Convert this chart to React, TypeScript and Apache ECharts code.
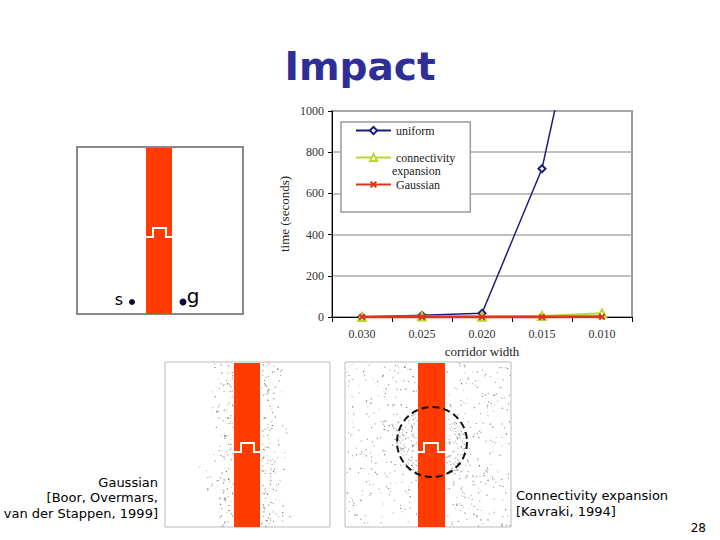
import React, { useEffect, useRef } from "react";
import * as echarts from "echarts";

// ---- data ----
const categories = ["0.030", "0.025", "0.020", "0.015", "0.010"];
const uniform = [0, 8, 18, 720, 2050];
const connectivity = [0, 2, 1, 5, 18];
const gaussian = [0, 0, 0, 0, 1];
const seriesNames = ["uniform", "connectivity expansion", "Gaussian"];

const X_SHAPE =
  "path://M0,2 L2,0 L5,3 L8,0 L10,2 L7,5 L10,8 L8,10 L5,7 L2,10 L0,8 L3,5 Z";

// deterministic decorative texture (image speckle, not data)
function makeRng(seed: number) {
  let a = seed >>> 0;
  return () => {
    a = (a + 0x6d2b79f5) >>> 0;
    let t = a;
    t = Math.imul(t ^ (t >>> 15), t | 1);
    t ^= t + Math.imul(t ^ (t >>> 7), t | 61);
    return ((t ^ (t >>> 14)) >>> 0) / 4294967296;
  };
}

function speckles(): any[] {
  const out: any[] = [];
  const dot = (x: number, y: number, o: number) =>
    out.push({
      type: "rect",
      silent: true,
      shape: { x, y, width: 1.1, height: 1.1 },
      style: { fill: "#333", opacity: o },
      z: 5,
    });
  const r1 = makeRng(7);
  const gauss = () => {
    const u = r1() || 1e-6;
    const v = r1();
    return Math.sqrt(-2 * Math.log(u)) * Math.cos(2 * Math.PI * v);
  };
  // bottom-left panel: narrow band around strip
  for (let i = 0; i < 280; i++) {
    const side = r1() < 0.5;
    const d = Math.abs(gauss()) * 11 + 1;
    const x = side ? 234 - d : 260 + d;
    const y = 363 + r1() * 163;
    if (x > 166 && x < 329) dot(x, y, 0.25 + r1() * 0.5);
  }
  // bottom-right panel: uniform + dense near circle
  const r2 = makeRng(99);
  for (let i = 0; i < 560; i++) {
    const x = 346 + r2() * 164;
    const y = 363 + r2() * 163;
    if (x > 417 && x < 446) continue;
    dot(x, y, 0.25 + r2() * 0.5);
  }
  for (let i = 0; i < 300; i++) {
    const a = r2() * Math.PI * 2;
    const rr = Math.sqrt(r2()) * 36;
    const x = 432 + Math.cos(a) * rr;
    const y = 442 + Math.sin(a) * rr;
    if (x > 417 && x < 446) continue;
    dot(x, y, 0.2 + r2() * 0.4);
  }
  return out;
}

function panel(x: number, y: number, w: number, h: number, stripX: number, stripW: number, notchY: number, notchL: number, notchR: number, border: string, bw: number): any[] {
  return [
    {
      type: "rect",
      silent: true,
      shape: { x, y, width: w, height: h },
      style: { fill: "#fff", stroke: border, lineWidth: bw },
      z: 1,
    },
    {
      type: "rect",
      silent: true,
      shape: { x: stripX, y: y + 1, width: stripW, height: h - 1 },
      style: { fill: "#FF3B00" },
      z: 2,
    },
    {
      type: "polyline",
      silent: true,
      shape: {
        points: [
          [stripX, notchY],
          [notchL, notchY],
          [notchL, notchY - 9],
          [notchR, notchY - 9],
          [notchR, notchY],
          [stripX + stripW, notchY],
        ],
      },
      style: { stroke: "#fff", lineWidth: 2, fill: null },
      z: 3,
    },
  ];
}

export default function App() {
  const ref = useRef<HTMLDivElement>(null);
  useEffect(() => {
    if (!ref.current) return;
    const chart = echarts.init(ref.current, undefined, { renderer: "svg" });
    const serif = "Liberation Serif";
    const comic = "DejaVu Sans";
    const graphics: any[] = [
      ...panel(77, 147, 166, 167, 146, 26, 237, 153, 166, "#888", 2),
      ...panel(165, 362, 165, 165, 234, 26, 452, 241, 254, "#bbb", 1),
      ...panel(345, 362, 166, 165, 418, 27, 452, 424, 438, "#bbb", 1),
      ...speckles(),
      {
        type: "circle",
        silent: true,
        shape: { cx: 432, cy: 442, r: 35 },
        style: { fill: null, stroke: "#111", lineWidth: 2, lineDash: [7, 4] },
        z: 6,
      },
      { type: "circle", silent: true, shape: { cx: 132, cy: 302, r: 3 }, style: { fill: "#0A0A3A" }, z: 4 },
      { type: "circle", silent: true, shape: { cx: 183, cy: 302, r: 3.5 }, style: { fill: "#0A0A3A" }, z: 4 },
      {
        type: "text", silent: true, x: 119, y: 299, z: 4,
        style: { text: "s", font: `16px ${comic}`, fill: "#000", align: "center", verticalAlign: "middle" },
      },
      {
        type: "text", silent: true, x: 193, y: 296, z: 4,
        style: { text: "g", font: `20px ${comic}`, fill: "#000", align: "center", verticalAlign: "middle" },
      },
      {
        type: "text", silent: true, x: 158, y: 482, z: 4,
        style: { text: "Gaussian", font: `13px ${comic}`, fill: "#000", align: "right", verticalAlign: "middle" },
      },
      {
        type: "text", silent: true, x: 158, y: 497, z: 4,
        style: { text: "[Boor, Overmars,", font: `13px ${comic}`, fill: "#000", align: "right", verticalAlign: "middle" },
      },
      {
        type: "text", silent: true, x: 158, y: 513, z: 4,
        style: { text: "van der Stappen, 1999]", font: `13px ${comic}`, fill: "#000", align: "right", verticalAlign: "middle" },
      },
      {
        type: "text", silent: true, x: 516, y: 495, z: 4,
        style: { text: "Connectivity expansion", font: `13px ${comic}`, fill: "#000", align: "left", verticalAlign: "middle" },
      },
      {
        type: "text", silent: true, x: 516, y: 511, z: 4,
        style: { text: "[Kavraki, 1994]", font: `13px ${comic}`, fill: "#000", align: "left", verticalAlign: "middle" },
      },
      {
        type: "text", silent: true, x: 706, y: 528, z: 4,
        style: { text: "28", font: `12px ${comic}`, fill: "#000", align: "right", verticalAlign: "middle" },
      },
      {
        type: "text", silent: true, x: 392, y: 171, z: 10,
        style: { text: "expansion", font: `12px ${serif}`, fill: "#222", align: "left", verticalAlign: "middle" },
      },
    ];

    chart.setOption({
      animation: false,
      backgroundColor: "#fff",
      title: {
        text: "Impact",
        left: "center",
        top: 42,
        textStyle: { fontFamily: comic, fontWeight: "bold", fontSize: 39, color: "#2E2E96" },
      },
      grid: {
        left: 332,
        top: 111,
        width: 300,
        height: 206,
        show: true,
        borderColor: "#9a9a9a",
        borderWidth: 2,
        backgroundColor: "#fff",
      },
      legend: {
        orient: "vertical",
        left: 341,
        top: 122,
        data: seriesNames,
        itemWidth: 35,
        itemHeight: 9,
        itemGap: 14,
        padding: [2, 15, 21, 14],
        backgroundColor: "#fff",
        borderColor: "#9a9a9a",
        borderWidth: 1.5,
        borderRadius: 0,
        z: 8,
        formatter: (n: string) => (n === "connectivity expansion" ? "connectivity" : n),
        textStyle: { fontFamily: serif, fontSize: 12, color: "#222", lineHeight: 13 },
      },
      xAxis: {
        type: "category",
        data: categories,
        boundaryGap: true,
        name: "corridor width",
        nameLocation: "middle",
        nameGap: 28,
        nameTextStyle: { fontFamily: serif, fontSize: 13, color: "#222" },
        axisLine: { lineStyle: { color: "#000", width: 1 } },
        axisTick: { show: true, length: 5, lineStyle: { color: "#000" } },
        axisLabel: { fontFamily: serif, fontSize: 12, color: "#333", margin: 11 },
      },
      yAxis: {
        type: "value",
        min: 0,
        max: 1000,
        interval: 200,
        name: "time (seconds)",
        nameLocation: "middle",
        nameGap: 41,
        nameTextStyle: { fontFamily: serif, fontSize: 13, color: "#222" },
        axisLine: { show: true, lineStyle: { color: "#000", width: 1 } },
        axisTick: { show: true, length: 4, lineStyle: { color: "#000" } },
        axisLabel: { fontFamily: serif, fontSize: 12, color: "#333", margin: 8, formatter: (v: number) => String(v) },
        splitLine: { lineStyle: { color: "#ababab", width: 1.5 } },
      },
      series: [
        {
          name: seriesNames[0],
          type: "line",
          data: uniform,
          color: "#1C1C7A",
          symbol: "emptyDiamond",
          symbolSize: 7,
          lineStyle: { width: 1.5, color: "#1C1C7A" },
          itemStyle: { color: "#1C1C7A", borderWidth: 1.5 },
          clip: true,
          z: 3,
        },
        {
          name: seriesNames[1],
          type: "line",
          data: connectivity,
          color: "#BCD635",
          symbol: "emptyTriangle",
          symbolSize: 8,
          lineStyle: { width: 2, color: "#BCD635" },
          itemStyle: { color: "#BCD635", borderWidth: 1.5 },
          z: 4,
        },
        {
          name: seriesNames[2],
          type: "line",
          data: gaussian,
          color: "#D9361B",
          symbol: X_SHAPE,
          symbolSize: 7,
          lineStyle: { width: 3, color: "#D9361B" },
          itemStyle: { color: "#D9361B" },
          z: 5,
        },
      ],
      graphic: graphics,
    });
    return () => chart.dispose();
  }, []);
  return (
    <div
      ref={ref}
      style={{ position: "fixed", left: 0, top: 0, width: 720, height: 540 }}
    />
  );
}
